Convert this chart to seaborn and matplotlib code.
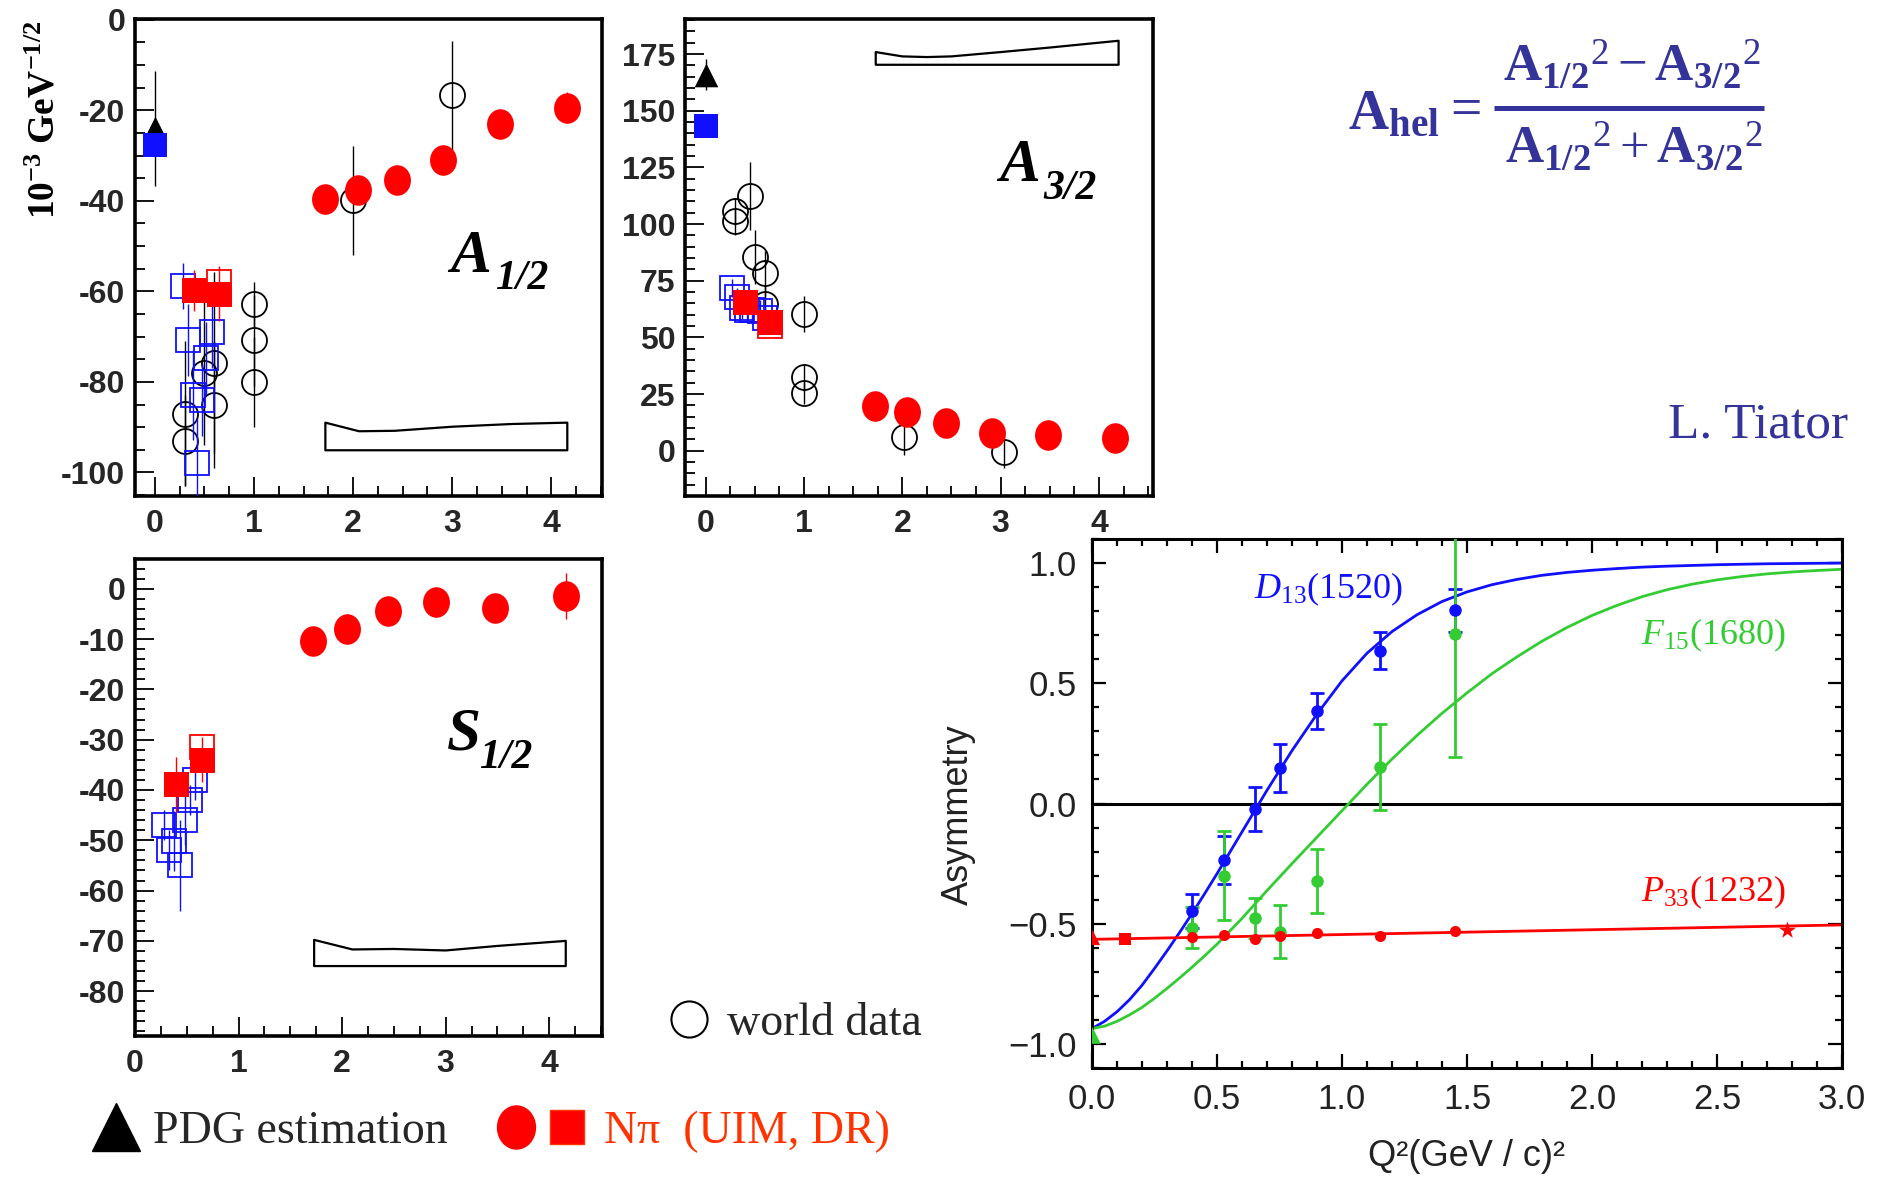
import numpy as np
import matplotlib
matplotlib.use("Agg")
import matplotlib.pyplot as plt
import seaborn as sns
from matplotlib.path import Path
from matplotlib.lines import Line2D
from matplotlib.legend_handler import HandlerTuple

# ---------------- data ----------------
# N-pi analysis at high Q^2 (red circles), same Q^2 in every panel
q2_hi = [1.72, 2.05, 2.44, 2.91, 3.48, 4.16]
a12_hi = [-39.5, -37.7, -35.5, -31.0, -23.0, -19.4]
a12_hi_err = [1.0, 1.0, 1.0, 1.0, 1.0, 3.5]
a32_hi = [19.8, 16.9, 12.2, 7.8, 6.9, 5.5]
a32_hi_err = [1.0, 1.0, 1.0, 1.0, 1.0, 1.5]
s12_hi = [-10.3, -8.1, -4.4, -2.7, -3.9, -1.5]
s12_hi_err = [0.8, 0.8, 0.8, 0.8, 0.8, 4.6]

# N-pi at low Q^2: UIM (filled squares) and DR (open squares)
q2_lo = [0.40, 0.65]
a12_lo = [-59.8, -60.5]
a12_lo_err = [4.5, 6.0]
a32_lo = [65.5, 56.7]
a32_lo_err = [4.0, 4.0]
s12_lo = [-38.9, -34.0]
s12_lo_err = [5.5, 4.5]
q2_dr = [0.65]
a12_dr = [-57.9]
a32_dr = [55.0]
s12_dr = [-31.4]

# photon point: PDG estimate (triangle) and filled blue square
q2_pdg = [0.0]
a12_pdg = [-24.0]
a12_pdg_err = [12.7]
a32_pdg = [166.0]
a32_pdg_err = [7.0]
a12_photon = [-27.7]
a32_photon = [143.4]

# world data (open circles)
q2_world_a12 = [0.30, 0.30, 0.50, 0.60, 0.60, 1.0, 1.0, 1.0, 2.0, 3.0]
a12_world = [-87.0, -93.0, -78.0, -75.8, -85.0, -62.9, -70.8, -80.0, -39.9, -16.7]
a12_world_err = [16, 10, 16, 20, 14, 5, 10, 10, 12, 12]
q2_world_a32 = [0.30, 0.30, 0.45, 0.50, 0.60, 0.60, 1.0, 1.0, 1.0, 2.02, 3.03]
a32_world = [105.7, 101.3, 112.3, 85.4, 78.3, 64.6, 60.2, 32.4, 25.4, 6.2, -0.7]
a32_world_err = [6, 6, 15, 12, 10, 8, 8, 6, 5, 8, 7]

# other pion data (blue open squares)
q2_blue = [0.28, 0.33, 0.38, 0.43, 0.48, 0.52, 0.58]
a12_blue = [-58.8, -70.8, -82.9, -98.0, -84.0, -74.8, -69.0]
a12_blue_err = [5, 8, 10, 10, 8, 8, 8]
q2_blue_a32 = [0.27, 0.32, 0.37, 0.42, 0.47, 0.55, 0.60]
a32_blue = [71.8, 67.6, 63.0, 62.2, 62.0, 61.5, 58.5]
a32_blue_err = [4, 4, 5, 5, 5, 5, 5]
q2_blue_s12 = [0.28, 0.33, 0.38, 0.43, 0.48, 0.53, 0.58]
s12_blue = [-47.0, -52.0, -50.2, -55.0, -46.0, -42.0, -38.0]
s12_blue_err = [3, 4, 6, 9, 5, 3, 4]

# model uncertainty bands (outline only)
band_q2_a12 = [1.72, 2.06, 2.42, 3.0, 3.6, 4.16]
band_a12_top = [-89.0, -90.9, -90.8, -89.9, -89.3, -89.0]
band_a12_bot = [-95.1] * 6
band_q2_a32 = [1.73, 2.0, 2.25, 2.5, 3.0, 3.5, 4.2]
band_a32_top = [175.9, 174.0, 173.7, 174.0, 175.9, 177.9, 180.9]
band_a32_bot = [170.3] * 7
band_q2_s12 = [1.73, 2.1, 2.5, 3.0, 3.5, 4.16]
band_s12_top = [-69.8, -71.7, -71.6, -71.9, -71.0, -70.0]
band_s12_bot = [-75.0] * 6

# helicity asymmetry panel
asym_q2 = [0.40, 0.527, 0.653, 0.752, 0.90, 1.153, 1.451]
d13_asym = [-0.447, -0.236, -0.023, 0.146, 0.385, 0.636, 0.804]
d13_err = [0.07, 0.10, 0.09, 0.10, 0.075, 0.078, 0.09]
f15_asym = [-0.516, -0.30, -0.478, -0.534, -0.322, 0.151, 0.705]
f15_err = [0.087, 0.185, 0.083, 0.11, 0.133, 0.18, 0.51]
p33_asym = [-0.556, -0.548, -0.565, -0.551, -0.539, -0.551, -0.530]
f15_photon = [-0.964]
p33_photon = [-0.556]
p33_sq_q2 = [0.133]
p33_sq = [-0.565]
p33_star_q2 = [2.78]
p33_star = [-0.525]

curve_q2 = [0.0, 0.05, 0.1, 0.15, 0.2, 0.25, 0.3, 0.35, 0.4, 0.45, 0.5,
            0.6, 0.7, 0.8, 0.9, 1.0, 1.1, 1.2, 1.3, 1.4, 1.5, 1.6, 1.7, 1.8,
            1.9, 2.0, 2.1, 2.2, 2.3, 2.4, 2.5, 2.6, 2.7, 2.8, 2.9, 3.0]
d13_curve = [-0.936, -0.906, -0.866, -0.816, -0.756, -0.686, -0.613, -0.537,
             -0.458, -0.376, -0.292, -0.118, 0.055, 0.220, 0.372, 0.510,
             0.625, 0.715, 0.785, 0.840, 0.880, 0.910, 0.932, 0.949, 0.961,
             0.970, 0.977, 0.983, 0.987, 0.990, 0.993, 0.995, 0.997, 0.998,
             0.999, 1.0]
f15_curve = [-0.936, -0.926, -0.906, -0.879, -0.848, -0.810, -0.769, -0.726,
             -0.681, -0.634, -0.585, -0.478, -0.362, -0.250, -0.140, -0.030,
             0.080, 0.185, 0.283, 0.375, 0.460, 0.540, 0.610, 0.675, 0.732,
             0.782, 0.824, 0.860, 0.889, 0.912, 0.930, 0.944, 0.955, 0.963,
             0.969, 0.974]
p33_line_q2 = [0.0, 3.0]
p33_line = [-0.565, -0.505]

# tick labels
x_major = [0, 1, 2, 3, 4]
a12_ticks = [0, -20, -40, -60, -80, -100]
a32_ticks = [0, 25, 50, 75, 100, 125, 150, 175]
s12_ticks = [0, -10, -20, -30, -40, -50, -60, -70, -80]
asym_xticks = [0.0, 0.5, 1.0, 1.5, 2.0, 2.5, 3.0]
asym_yticks = [-1.0, -0.5, 0.0, 0.5, 1.0]

# ---------------- style ----------------
sns.set_style("ticks")
plt.rcParams.update({
    "font.family": ["Liberation Sans", "DejaVu Sans"],
    "mathtext.fontset": "custom",
    "mathtext.rm": "Liberation Serif",
    "mathtext.it": "Liberation Serif:italic",
    "mathtext.bf": "Liberation Serif:bold",
})

RED = "#ff0000"
BLUE = "#1010ff"
GREEN = "#33cc33"
NAVY = "#333399"

_c = Path.unit_circle()
ELLIPSE = Path(_c.vertices * np.array([0.88, 1.0]), _c.codes)

W, H = 1878, 1178
fig = plt.figure(figsize=(W / 100, H / 100), dpi=100)


def rect(l, t, r, b):
    return [l / W, 1 - b / H, (r - l) / W, (b - t) / H]


def root_axes(ax, xlim, ylim, yticks, ystep):
    ax.set_xlim(xlim)
    ax.set_ylim(ylim)
    ax.set_xticks(x_major, [str(v) for v in x_major], fontsize=23,
                  fontweight="bold")
    ax.set_xticks(np.arange(0, 4.51, 0.25), minor=True)
    ax.set_yticks(yticks, [str(v) for v in yticks], fontsize=23,
                  fontweight="bold")
    ax.set_yticks(np.arange(np.ceil(ylim[0] / ystep) * ystep, ylim[1], ystep),
                  minor=True)
    ax.tick_params(which="both", direction="in", top=False, right=False,
                   width=1.3, color="k")
    ax.tick_params(which="major", length=14)
    ax.tick_params(which="minor", length=7)
    ax.tick_params(axis="y", pad=7)
    ax.tick_params(axis="x", pad=9)
    for sp in ax.spines.values():
        sp.set_linewidth(2.6)
        sp.set_color("k")


def band(ax, x, lo, hi):
    ax.fill_between(x, lo, hi, facecolor="none", edgecolor="k", lw=1.6,
                    zorder=1)


def open_pts(ax, x, y, err, marker, ms, color, z):
    ax.errorbar(x, y, yerr=err, fmt=marker, ms=ms, mfc="none", mec=color,
                mew=1.3, ecolor=color, elinewidth=1.0, capsize=0, zorder=z)


def filled_pts(ax, x, y, err, marker, ms, color, z):
    if err is not None:
        ax.errorbar(x, y, yerr=err, fmt="none", ecolor=color, elinewidth=1.0,
                    capsize=0, zorder=z)
    sns.scatterplot(x=x, y=y, marker=marker, s=ms ** 2, color=color,
                    edgecolor=color, linewidth=0, ax=ax, zorder=z + 0.5,
                    legend=False)


def panel_label(ax, main, sub, x, y, xs, ys):
    kw = dict(transform=ax.transAxes, family="Liberation Serif",
              style="italic", weight="bold", va="baseline", color="k")
    ax.text(x, y, main, fontsize=44, **kw)
    ax.text(xs, ys, sub, fontsize=30, **kw)


# ---------------- A 1/2 ----------------
ax1 = fig.add_axes(rect(135, 19, 602, 496))
root_axes(ax1, (-0.2, 4.51), (-105.2, 0.15), a12_ticks, 5)
band(ax1, band_q2_a12, band_a12_bot, band_a12_top)
open_pts(ax1, q2_world_a12, a12_world, a12_world_err, "o", 18, "k", 2)
open_pts(ax1, q2_blue, a12_blue, a12_blue_err, "s", 17, BLUE, 3)
open_pts(ax1, q2_dr, a12_dr, None, "s", 17, RED, 3.5)
filled_pts(ax1, q2_lo, a12_lo, a12_lo_err, "s", 18, RED, 4)
filled_pts(ax1, q2_pdg, a12_pdg, a12_pdg_err, "^", 17, "k", 4)
filled_pts(ax1, q2_pdg, a12_photon, None, "s", 17, BLUE, 5)
filled_pts(ax1, q2_hi, a12_hi, a12_hi_err, ELLIPSE, 22, RED, 6)
panel_label(ax1, "A", "1/2", 0.675, 0.47, 0.77, 0.435)

# ---------------- A 3/2 ----------------
ax2 = fig.add_axes(rect(685, 19, 1153, 496))
root_axes(ax2, (-0.21, 4.55), (-20, 190.5), a32_ticks, 5)
band(ax2, band_q2_a32, band_a32_bot, band_a32_top)
open_pts(ax2, q2_world_a32, a32_world, a32_world_err, "o", 18, "k", 2)
open_pts(ax2, q2_blue_a32, a32_blue, a32_blue_err, "s", 17, BLUE, 3)
open_pts(ax2, q2_dr, a32_dr, None, "s", 17, RED, 3.5)
filled_pts(ax2, q2_lo, a32_lo, a32_lo_err, "s", 18, RED, 4)
filled_pts(ax2, q2_pdg, a32_pdg, a32_pdg_err, "^", 17, "k", 4)
filled_pts(ax2, q2_pdg, a32_photon, None, "s", 17, BLUE, 5)
filled_pts(ax2, q2_hi, a32_hi, a32_hi_err, ELLIPSE, 22, RED, 6)
panel_label(ax2, "A", "3/2", 0.672, 0.66, 0.765, 0.622)

# ---------------- S 1/2 ----------------
ax3 = fig.add_axes(rect(135, 559, 602, 1036))
root_axes(ax3, (0, 4.51), (-88.9, 5.9), s12_ticks, 2)
band(ax3, band_q2_s12, band_s12_bot, band_s12_top)
open_pts(ax3, q2_blue_s12, s12_blue, s12_blue_err, "s", 17, BLUE, 3)
open_pts(ax3, q2_dr, s12_dr, None, "s", 17, RED, 3.5)
filled_pts(ax3, q2_lo, s12_lo, s12_lo_err, "s", 18, RED, 4)
filled_pts(ax3, q2_hi, s12_hi, s12_hi_err, ELLIPSE, 22, RED, 6)
panel_label(ax3, "S", "1/2", 0.668, 0.60, 0.737, 0.562)

fig.text(45 / W, 1 - 120 / H, r"$\mathbf{10^{-3}\ GeV^{-1/2}}$",
         rotation=90, ha="center", va="center", fontsize=27, color="k")

# ---------------- helicity asymmetry ----------------
ax4 = fig.add_axes(rect(1092, 539, 1842, 1068))
ax4.set_xlim(0, 3)
ax4.set_ylim(-1.1, 1.1)
ax4.axhline(0, color="k", lw=2.2, zorder=1)
sns.lineplot(x=curve_q2, y=d13_curve, color=BLUE, lw=2.0, ax=ax4,
             sort=False, estimator=None, zorder=2)
sns.lineplot(x=curve_q2, y=f15_curve, color=GREEN, lw=2.0, ax=ax4,
             sort=False, estimator=None, zorder=2)
sns.lineplot(x=p33_line_q2, y=p33_line, color=RED, lw=2.0, ax=ax4,
             sort=False, estimator=None, zorder=2)

ax4.errorbar(asym_q2, d13_asym, yerr=d13_err, fmt="o", ms=8, color=BLUE,
             elinewidth=2, capsize=5, capthick=2, zorder=4)
ax4.errorbar(asym_q2, f15_asym, yerr=f15_err, fmt="o", ms=8, color=GREEN,
             elinewidth=2, capsize=5, capthick=2, zorder=4)
filled_pts(ax4, asym_q2, p33_asym, None, "o", 8, RED, 5)
filled_pts(ax4, q2_pdg, p33_photon, None, "^", 11, RED, 5)
filled_pts(ax4, p33_sq_q2, p33_sq, None, "s", 9, RED, 5)
filled_pts(ax4, p33_star_q2, p33_star, None, "*", 13, RED, 5)
filled_pts(ax4, q2_pdg, f15_photon, None, "^", 12, GREEN, 5)

ax4.set_xticks(asym_xticks, [f"{v:.1f}" for v in asym_xticks], fontsize=25,
               color="#222222")
ax4.set_yticks(asym_yticks, [f"{v:.1f}".replace("-", "\u2212")
                             for v in asym_yticks], fontsize=25,
               color="#222222")
ax4.set_xticks(np.arange(0, 3.01, 0.1), minor=True)
ax4.set_yticks(np.arange(-1.1, 1.11, 0.1), minor=True)
ax4.tick_params(which="both", direction="in", top=True, right=True,
                width=1.6, color="k")
ax4.tick_params(which="major", length=10, pad=11)
ax4.tick_params(which="minor", length=5)
for sp in ax4.spines.values():
    sp.set_linewidth(2.2)
    sp.set_color("k")
ax4.set_xlabel("")
ax4.set_ylabel("")

ax4.text(0.65, 0.89, r"$\mathit{D}_{13}(1520)$", color=BLUE, fontsize=26,
         va="center", ha="left")
ax4.text(2.195, 0.70, r"$\mathit{F}_{15}(1680)$", color=GREEN, fontsize=26,
         va="center", ha="left")
ax4.text(2.195, -0.37, r"$\mathit{P}_{33}(1232)$", color=RED, fontsize=26,
         va="center", ha="left")

fig.text(958 / W, 1 - 815 / H, "Asymmetry", rotation=90, ha="center",
         va="center", fontsize=26, color="#222222")
fig.text(1467 / W, 1 - 1156 / H, "Q²(GeV / c)²", ha="center", va="center",
         fontsize=26, color="#222222")

# ---------------- formula and author ----------------
A12 = r"{\mathbf{A}_{\mathbf{1/2}}}^{2}"
A32 = r"{\mathbf{A}_{\mathbf{3/2}}}^{2}"
fig.text(1348 / W, 1 - 129 / H, r"$\mathbf{A}_{\mathbf{hel}}$", ha="left",
         va="baseline", fontsize=40, color=NAVY)
fig.text(1461 / W, 1 - 110 / H, r"$=$", ha="center", va="center",
         fontsize=40, color=NAVY)
fig.text(1632 / W, 1 - 80 / H, f"${A12} - {A32}$", ha="center",
         va="baseline", fontsize=38, color=NAVY)
fig.text(1634 / W, 1 - 162 / H, f"${A12} + {A32}$", ha="center",
         va="baseline", fontsize=38, color=NAVY)
fig.add_artist(Line2D([1494 / W, 1764 / W], [1 - 108 / H, 1 - 108 / H],
                      color=NAVY, lw=3.6, solid_capstyle="butt"))
fig.text(1848 / W, 1 - 425 / H, "L. Tiator", ha="right", va="center",
         fontsize=37, family="Liberation Serif", color=NAVY)

# ---------------- legends ----------------
serif = {"family": "Liberation Serif", "size": 33}
leg_kw = dict(loc="center left", frameon=False, prop=serif, borderpad=0,
              borderaxespad=0, handlelength=1.0)

world_h = Line2D([], [], ls="none", marker="o", ms=26, mfc="none", mec="k",
                 mew=1.5)
fig.legend([world_h], ["world data"], bbox_to_anchor=(666 / W, 1 - 1024 / H),
           handletextpad=0.33, **leg_kw)

pdg_h = Line2D([], [], ls="none", marker="^", ms=34, color="k")
fig.legend([pdg_h], ["PDG estimation"], bbox_to_anchor=(93 / W, 1 - 1132 / H),
           handletextpad=0.3, **leg_kw)

nucl_h = (Line2D([], [], ls="none", marker=ELLIPSE, ms=31, color=RED),
          Line2D([], [], ls="none", marker="s", ms=24, mfc=RED, mec="#ff3300"))
kw2 = dict(leg_kw)
kw2["handlelength"] = 2.0
fig.legend([nucl_h], ["N\u03c0  (UIM, DR)"],
           bbox_to_anchor=(496 / W, 1 - 1132 / H), handletextpad=0.36,
           labelcolor="#ff3300",
           handler_map={tuple: HandlerTuple(ndivide=None, pad=0.22)}, **kw2)

fig.savefig("out.png", dpi=100)
